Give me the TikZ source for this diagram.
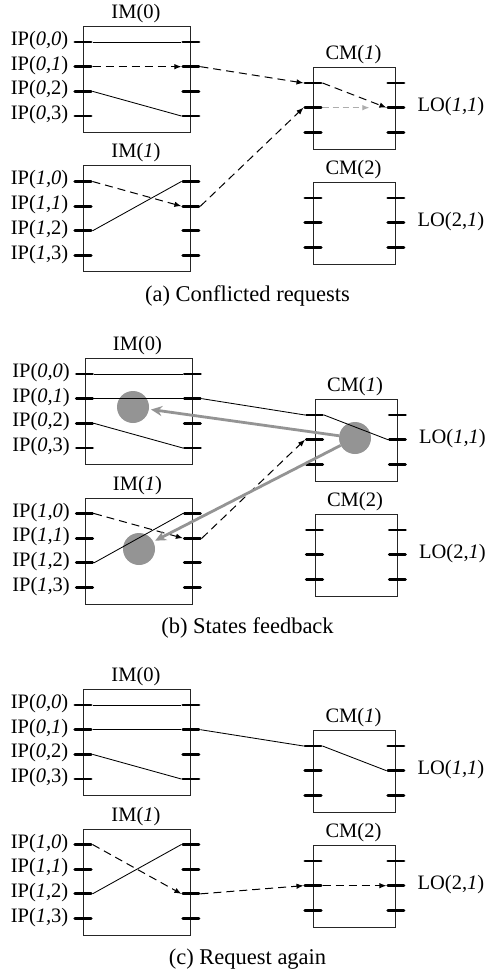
\documentclass[tikz,border=0pt]{standalone}
\usepackage{fontspec}
\setmainfont{Liberation Serif}
\usetikzlibrary{arrows.meta}

\tikzset{
  modbox/.style={draw=black!85, line width=0.9pt, inner sep=0pt, anchor=north west},
  stub/.style={line width=2.9pt, line cap=round, shorten <=1.4pt, shorten >=1.4pt},
  link/.style={line width=0.85pt},
  req/.style={line width=1pt, dash pattern=on 8pt off 5pt, -{Latex[length=7pt,width=5.5pt]}},
  ghost/.style={black!32, line width=1pt, dash pattern=on 6pt off 4pt, -{Latex[length=7pt,width=5.5pt]}},
  fb/.style={black!42, line width=2.8pt, -{Stealth[length=11pt,width=10pt]}},
  dot/.style={circle, fill=black!42, minimum size=32pt, inner sep=0pt},
  lbl/.style={font=\fontsize{20.5}{22}\selectfont, inner sep=0pt},
  captext/.style={font=\fontsize{22.5}{25}\selectfont, inner sep=0pt, anchor=base},
}

% A switching module: box, title and port stubs with named end points
% #1 name, #2 left x, #3 top y, #4 width, #5 height, #6 last port index, #7 title
\newcommand\swmodule[7]{%
  \node[modbox, minimum width=#4pt, minimum height=#5pt] (#1) at (#2,#3) {};
  \node[lbl, anchor=base] (#1-title) at ([shift={(-1,-7.5)}]#1.north) {#7};
  \foreach \k in {0,...,#6} {
    \coordinate (#1-L\k-o) at ([shift={(-9.5,16+\k*24.67)}]#1.north west);
    \coordinate (#1-L\k-i) at ([shift={(9.5,16+\k*24.67)}]#1.north west);
    \coordinate (#1-R\k-i) at ([shift={(-9.5,16+\k*24.67)}]#1.north east);
    \coordinate (#1-R\k-o) at ([shift={(9.5,16+\k*24.67)}]#1.north east);
    \draw[stub] (#1-L\k-o) -- (#1-L\k-i);
    \draw[stub] (#1-R\k-i) -- (#1-R\k-o);
  }
}

% The four-input / two-output fabric of one stage
% #1 prefix
\newcommand\fabric[1]{%
  \swmodule{#1-im0}{83}{26}{107}{106}{3}{IM(0)}
  \swmodule{#1-im1}{83}{165.5}{107}{106}{3}{IM(\textit{1})}
  \swmodule{#1-cm1}{313}{67}{82}{82}{2}{CM(\textit{1})}
  \swmodule{#1-cm2}{313}{182}{82}{82}{2}{CM(2)}
  \node[lbl, anchor=base east] (#1-ip00) at ([shift={(-5,3.5)}]#1-im0-L0-o) {IP(\textit{0,0})};
  \node[lbl, anchor=base east] (#1-ip01) at ([shift={(-5,3.5)}]#1-im0-L1-o) {IP(\textit{0,1})};
  \node[lbl, anchor=base east] (#1-ip02) at ([shift={(-5,3.5)}]#1-im0-L2-o) {IP(\textit{0,}2)};
  \node[lbl, anchor=base east] (#1-ip03) at ([shift={(-5,3.5)}]#1-im0-L3-o) {IP(\textit{0,}3)};
  \node[lbl, anchor=base east] (#1-ip10) at ([shift={(-5,3.5)}]#1-im1-L0-o) {IP(\textit{1,0})};
  \node[lbl, anchor=base east] (#1-ip11) at ([shift={(-5,3.5)}]#1-im1-L1-o) {IP(\textit{1,1})};
  \node[lbl, anchor=base east] (#1-ip12) at ([shift={(-5,3.5)}]#1-im1-L2-o) {IP(\textit{1,}2)};
  \node[lbl, anchor=base east] (#1-ip13) at ([shift={(-5,3.5)}]#1-im1-L3-o) {IP(\textit{1,}3)};
  \node[lbl, anchor=base west] (#1-lo11) at ([shift={(12,3.5)}]#1-cm1-R1-o) {LO(\textit{1,1})};
  \node[lbl, anchor=base west] (#1-lo21) at ([shift={(12,3.5)}]#1-cm2-R1-o) {LO(2,\textit{1})};
}

\begin{document}
\begin{tikzpicture}[x=1pt, y=-1pt]
\useasboundingbox (0,0) rectangle (489,973);
\fill[white] (0,0) rectangle (489,973);

% (a) conflicted requests
\begin{scope}
  \fabric{a}
  \draw[link] (a-im0-L0-i) -- (a-im0-R0-i);
  \draw[req]  (a-im0-L1-i) -- (a-im0-R1-i);
  \draw[link] (a-im0-L2-i) -- (a-im0-R3-i);
  \draw[req]  (a-im0-R1-o) -- (a-cm1-L0-o);
  \draw[req]  (a-im1-L0-i) -- (a-im1-R1-i);
  \draw[link] (a-im1-L2-i) -- (a-im1-R0-i);
  \draw[req]  (a-im1-R1-o) -- (a-cm1-L1-o);
  \draw[req]  (a-cm1-L0-i) -- (a-cm1-R1-i);
  \draw[ghost, shorten >=17pt] (a-cm1-L1-i) -- (a-cm1-R1-i);
  \node[captext] (a-cap) at (247.5,301) {(a) Conflicted requests};
\end{scope}

% (b) states feedback
\begin{scope}[shift={(1.5,332)}]
  \node[dot] (b-d0) at (131.5,75) {};
  \node[dot] (b-d1) at (137.5,217) {};
  \node[dot] (b-dc) at (353.5,106) {};
  \fabric{b}
  \draw[link] (b-im0-L0-i) -- (b-im0-R0-i);
  \draw[link] (b-im0-L1-i) -- (b-im0-R1-i);
  \draw[link] (b-im0-L2-i) -- (b-im0-R3-i);
  \draw[link] (b-im0-R1-o) -- (b-cm1-L0-o);
  \draw[link] (b-cm1-L0-i) -- (b-cm1-R1-i);
  \draw[req]  (b-im1-L0-i) -- (b-im1-R1-i);
  \draw[link] (b-im1-L2-i) -- (b-im1-R0-i);
  \draw[req]  (b-im1-R1-o) -- (b-cm1-L1-o);
  \draw[fb, shorten >=2pt] (b-dc) -- (b-d0);
  \draw[fb, shorten >=2pt] (b-dc) -- (b-d1);
  \node[captext] (b-cap) at (246,301) {(b) States feedback};
\end{scope}

% (c) request again
\begin{scope}[shift={(0,663)}]
  \fabric{c}
  \draw[link] (c-im0-L0-i) -- (c-im0-R0-i);
  \draw[link] (c-im0-L1-i) -- (c-im0-R1-i);
  \draw[link] (c-im0-L2-i) -- (c-im0-R3-i);
  \draw[link] (c-im0-R1-o) -- (c-cm1-L0-o);
  \draw[link] (c-cm1-L0-i) -- (c-cm1-R1-i);
  \draw[req]  (c-im1-L0-i) -- (c-im1-R2-i);
  \draw[link] (c-im1-L2-i) -- (c-im1-R0-i);
  \draw[req]  (c-im1-R2-o) -- (c-cm2-L1-o);
  \draw[req]  (c-cm2-L1-i) -- (c-cm2-R1-i);
  \node[captext] (c-cap) at (247.5,301) {(c) Request again};
\end{scope}
\end{tikzpicture}
\end{document}
